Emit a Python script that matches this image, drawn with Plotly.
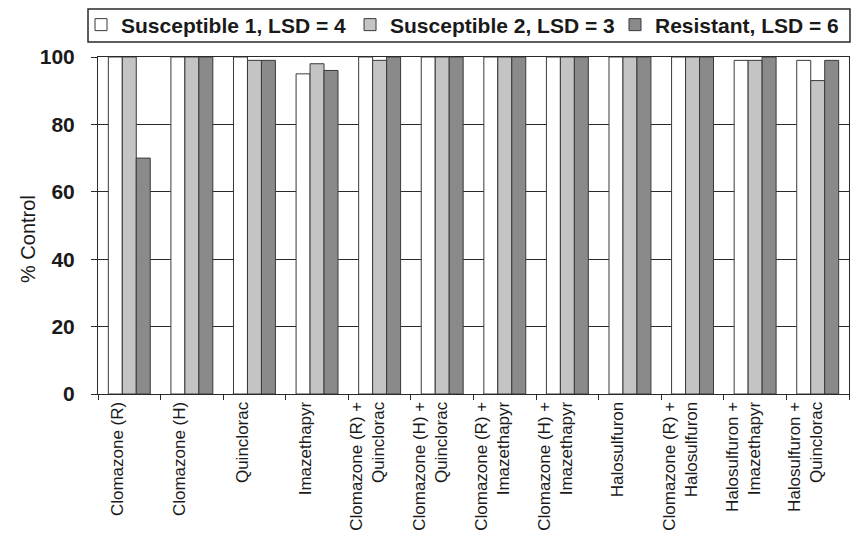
import plotly.graph_objects as go

categories = [
    "Clomazone (R)", "Clomazone (H)", "Quinclorac", "Imazethapyr",
    "Clomazone (R) +<br>Quinclorac", "Clomazone (H) +<br>Quinclorac",
    "Clomazone (R) +<br>Imazethapyr", "Clomazone (H) +<br>Imazethapyr",
    "Halosulfuron", "Clomazone (R) +<br>Halosulfuron",
    "Halosulfuron +<br>Imazethapyr", "Halosulfuron +<br>Quinclorac",
]
susceptible1 = [100, 100, 100, 95, 100, 100, 100, 100, 100, 100, 99, 99]
susceptible2 = [100, 100, 99, 98, 99, 100, 100, 100, 100, 100, 99, 93]
resistant = [70, 100, 99, 96, 100, 100, 100, 100, 100, 100, 100, 99]

series_names = ["Susceptible 1, LSD = 4", "Susceptible 2, LSD = 3", "Resistant, LSD = 6"]
series_values = [susceptible1, susceptible2, resistant]
series_colors = ["#ffffff", "#c4c4c4", "#8a8a8a"]
legend_ids = ["legend", "legend2", "legend3"]
legend_x = [-0.0226, 0.3356, 0.6884]

FONT = "Liberation Sans, Arial, sans-serif"

fig = go.Figure()
for name, vals, col, lid in zip(series_names, series_values, series_colors, legend_ids):
    fig.add_trace(go.Bar(
        x=categories, y=vals, name=name, legend=lid,
        marker=dict(color=col, line=dict(color="#3a3a3a", width=1)),
    ))

legend_style = dict(
    orientation="h", xanchor="left", y=1.095, yanchor="middle",
    font=dict(family=FONT, size=21, weight="bold", color="#1a1a1a"),
    borderwidth=0, bgcolor="rgba(0,0,0,0)",
)

# page has an 8px body margin: figure is 852x526 so plot area lands at x 98-849, y 57-394
fig.update_layout(
    width=852, height=526,
    margin=dict(l=90, r=11, t=49, b=140, autoexpand=False),
    paper_bgcolor="white", plot_bgcolor="white",
    barmode="group", bargap=0.33, bargroupgap=0,
    font=dict(family=FONT, color="#1a1a1a"),
    showlegend=True,
    legend=dict(x=legend_x[0], **legend_style),
    legend2=dict(x=legend_x[1], **legend_style),
    legend3=dict(x=legend_x[2], **legend_style),
    shapes=[dict(
        type="rect", xref="paper", yref="paper",
        x0=-0.0133, x1=1.0013, y0=1.0445, y1=1.1424,
        line=dict(color="#2a2a2a", width=1.5), fillcolor="rgba(0,0,0,0)",
        layer="below",
    )],
    annotations=[dict(
        text="% Control", textangle=-90, showarrow=False,
        xref="paper", yref="paper", x=-0.0932, y=0.46,
        xanchor="center", yanchor="middle",
        font=dict(family=FONT, size=20, color="#1a1a1a"),
    )],
)

fig.update_xaxes(
    type="category",
    showline=True, linecolor="#2a2a2a", linewidth=1, mirror=True,
    ticks="outside", tickson="boundaries", ticklen=5, tickcolor="#2a2a2a",
    tickangle=-90, ticklabelshift=-12,
    tickfont=dict(family=FONT, size=17, color="#1a1a1a"),
    showgrid=False,
)
fig.update_yaxes(
    range=[0, 100], tickvals=[0, 20, 40, 60, 80, 100],
    showline=True, linecolor="#2a2a2a", linewidth=1, mirror=True,
    ticks="outside", ticklen=6, tickcolor="#2a2a2a",
    ticklabelstandoff=12,
    tickfont=dict(family=FONT, size=21, weight="bold", color="#1a1a1a"),
    showgrid=True, gridcolor="#2a2a2a", gridwidth=1,
    zeroline=False,
)

fig.write_html("out.html")
